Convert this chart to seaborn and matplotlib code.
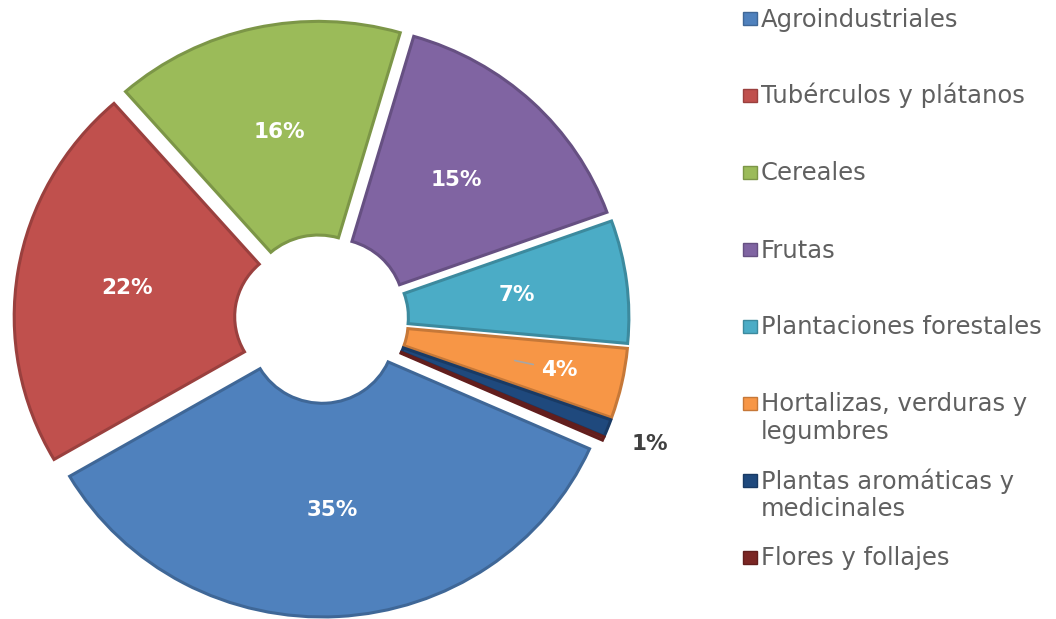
import textwrap

import numpy as np
import matplotlib
matplotlib.use("Agg")
import matplotlib.pyplot as plt
from matplotlib.patches import Rectangle
import seaborn as sns

# Superficie sembrada por grupo de cultivo (%)
categories = [
    "Agroindustriales",
    "Tubérculos y plátanos",
    "Cereales",
    "Frutas",
    "Plantaciones forestales",
    "Hortalizas, verduras y legumbres",
    "Plantas aromáticas y medicinales",
    "Flores y follajes",
]
shares = [35, 22, 16, 15, 7, 4, 1, 0.2]
hex_colors = ["#4f81bd", "#c0504d", "#9bbb59", "#8064a2",
              "#4bacc6", "#f79646", "#1f497d", "#7b2624"]

sns.set_theme(style="white")
plt.rcParams["font.family"] = ["DejaVu Sans"]

W, H = 1056, 619
fig = plt.figure(figsize=(W / 100, H / 100), dpi=100)
fig.patch.set_facecolor("white")

# ring geometry (pixel units; the ring is slightly flattened vertically)
cx, cy = 321.5, 319.0
r_out, r_in, gap = 292.5, 72.0, 15.0
squash = 0.969

palette = sns.color_palette(hex_colors)
edges = [tuple(c * 0.8 for c in col) for col in palette]


def pct_label(p):
    return f"{p:.0f}%" if p >= 0.5 else ""


ax = fig.add_axes([0, 0, 1, 1])
wedges, _, pct_texts = ax.pie(
    shares,
    colors=palette,
    startangle=336,
    counterclock=False,
    radius=r_out,
    center=(cx, (H - cy) / squash),
    explode=[gap] * len(shares),
    wedgeprops=dict(width=r_out - r_in, linewidth=2.2),
    autopct=pct_label,
    pctdistance=(r_out + r_in) / 2 / r_out,
    textprops=dict(color="white", fontsize=15.5, fontweight="bold"),
)
for w, ec in zip(wedges, edges):
    w.set_edgecolor(ec)
ax.set_aspect("auto")
ax.set_xlim(0, W)
ax.set_ylim(0, H / squash)
ax.axis("off")


def along_mid(i, dist):
    w = wedges[i]
    th = np.deg2rad((w.theta1 + w.theta2) / 2)
    x0, y0 = w.center
    return x0 + dist * np.cos(th), y0 + dist * np.sin(th)


# small slices: label pushed outward, with a short leader for the 4 %
pct_texts[5].set_position(along_mid(5, r_out * 0.78))
(x0, y0), (x1, y1) = along_mid(5, 183), along_mid(5, 202)
ax.plot([x0, x1], [y0, y1], color="#a6a6a6", lw=1.2)
pct_texts[6].set_position(along_mid(6, 338))
pct_texts[6].set_color("#404040")

# legend on the right
lax = fig.add_axes([0, 0, 1, 1])
lax.set_xlim(0, W)
lax.set_ylim(H, 0)
lax.axis("off")
for k, (name, col, ec) in enumerate(zip(categories, palette, edges)):
    base = 26.5 + 77 * k
    lax.add_patch(Rectangle((743, base - 14.5), 13.5, 13,
                            facecolor=col, edgecolor=ec, lw=1))
    for j, line in enumerate(textwrap.wrap(name, 23)):
        lax.text(761, base + 27 * j, line, fontsize=17.5, color="#606060",
                 ha="left", va="baseline")

fig.savefig("out.png", dpi=100, facecolor="white")
